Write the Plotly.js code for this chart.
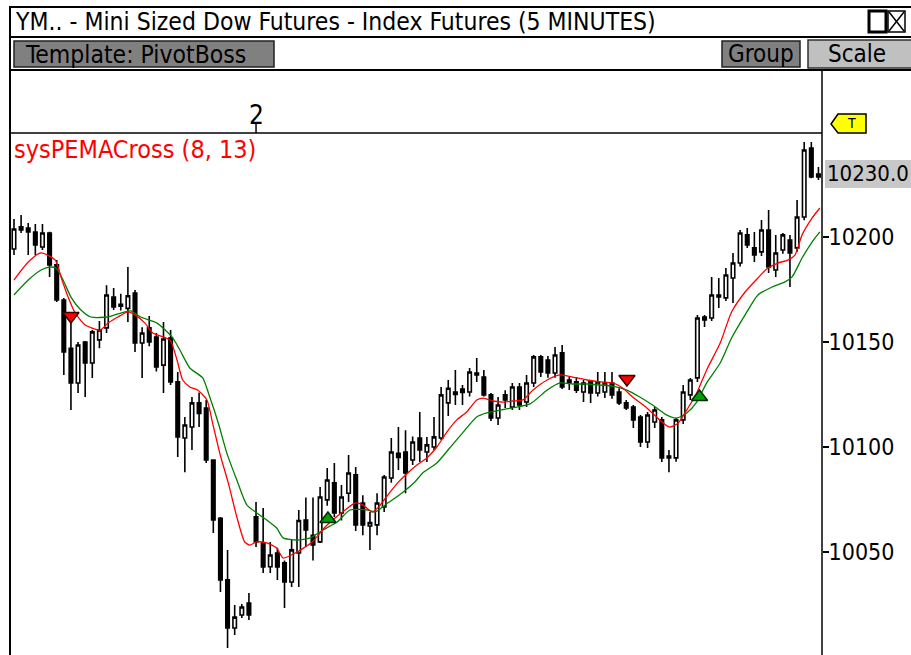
<!DOCTYPE html>
<html>
<head>
<meta charset="utf-8">
<script src="https://cdn.plot.ly/plotly-3.0.1.min.js"></script>
<style>
  body { margin: 0; padding: 0; background: #fff; }
  #chart { width: 911px; height: 655px; }
</style>
</head>
<body>
<div id="chart"></div>
<script>
// YM 5-minute bars (index = bar number)
const barOpen = [
  10194.3, 10204.8, 10204.3, 10202.4, 10195.2, 10201.9, 10186.7, 10170.0, 10147.0, 10130.5,
  10150.0, 10140.0, 10151.0, 10156.7, 10171.4, 10167.0, 10166.0, 10173.3, 10149.5, 10156.7,
  10152.4, 10139.0, 10151.9, 10131.0, 10104.3, 10109.5, 10121.0, 10118.6, 10093.8, 10066.0,
  10036.7, 10013.8, 10020.0, 10025.7, 10066.7, 10054.3, 10043.0, 10049.5, 10044.8, 10035.7,
  10049.5, 10065.2, 10058.0, 10054.8, 10074.8, 10082.9, 10068.6, 10078.0, 10086.7, 10073.3,
  10062.4, 10062.9, 10071.4, 10085.2, 10097.0, 10097.6, 10093.8, 10104.3, 10097.6, 10100.0,
  10104.3, 10121.0, 10126.2, 10127.6, 10126.2, 10135.2, 10133.3, 10124.8, 10113.8, 10124.8,
  10119.0, 10128.6, 10121.4, 10130.5, 10142.9, 10141.4, 10135.2, 10144.8, 10131.9, 10131.0,
  10126.2, 10131.0, 10125.7, 10126.2, 10130.5, 10126.2, 10121.0, 10119.0, 10114.3, 10102.4,
  10111.9, 10112.9, 10094.8, 10094.8, 10112.9, 10124.8, 10132.9, 10161.9, 10161.4, 10172.4,
  10171.0, 10180.5, 10187.6, 10201.0, 10194.8, 10192.9, 10203.3, 10184.3, 10193.8, 10198.6,
  10194.8, 10209.5, 10242.4, 10230.0
];
const barHigh = [
  10208.6, 10210.5, 10206.7, 10206.2, 10206.2, 10202.5, 10189.0, 10171.0, 10160.0, 10150.0,
  10150.5, 10155.7, 10160.0, 10177.0, 10175.7, 10173.0, 10185.7, 10174.8, 10157.0, 10162.4,
  10154.3, 10159.5, 10155.7, 10135.7, 10114.3, 10123.8, 10126.0, 10122.4, 10094.0, 10066.7,
  10051.0, 10024.8, 10025.2, 10030.5, 10073.8, 10071.0, 10054.8, 10052.0, 10046.0, 10055.7,
  10070.0, 10076.0, 10076.0, 10081.0, 10090.0, 10092.4, 10081.9, 10096.2, 10090.5, 10077.0,
  10069.0, 10078.0, 10086.7, 10104.3, 10109.5, 10108.0, 10105.0, 10116.7, 10104.8, 10114.3,
  10128.6, 10131.9, 10136.7, 10129.5, 10137.6, 10142.4, 10136.7, 10125.7, 10123.8, 10127.0,
  10130.5, 10130.5, 10134.3, 10143.8, 10143.8, 10143.3, 10147.6, 10148.6, 10133.3, 10133.3,
  10131.9, 10131.9, 10135.7, 10135.7, 10135.7, 10128.0, 10122.4, 10120.0, 10115.2, 10116.7,
  10119.0, 10114.3, 10098.6, 10113.8, 10129.5, 10132.9, 10162.9, 10162.9, 10181.0, 10180.5,
  10185.2, 10192.4, 10203.3, 10204.3, 10202.4, 10208.1, 10212.9, 10201.0, 10201.9, 10201.0,
  10217.6, 10245.2, 10245.2, 10233.3
];
const barLow = [
  10191.4, 10201.9, 10191.4, 10191.4, 10193.8, 10181.0, 10169.0, 10134.3, 10117.6, 10125.7,
  10123.8, 10132.9, 10147.0, 10154.3, 10165.2, 10165.0, 10159.5, 10145.2, 10132.9, 10148.0,
  10136.0, 10125.7, 10129.5, 10095.2, 10088.0, 10098.6, 10109.5, 10092.4, 10059.0, 10031.0,
  10004.3, 10010.5, 10018.6, 10017.6, 10052.4, 10040.0, 10040.0, 10036.7, 10023.3, 10033.3,
  10033.3, 10052.4, 10046.0, 10054.3, 10072.0, 10066.7, 10065.0, 10073.8, 10060.0, 10058.0,
  10051.0, 10058.0, 10069.0, 10083.0, 10089.0, 10078.0, 10091.4, 10092.9, 10092.9, 10098.6,
  10103.3, 10114.8, 10120.0, 10120.0, 10124.0, 10131.0, 10124.0, 10112.4, 10110.5, 10118.6,
  10117.6, 10117.6, 10119.0, 10128.6, 10133.3, 10133.0, 10133.0, 10127.6, 10127.1, 10125.7,
  10121.4, 10121.0, 10124.0, 10123.3, 10123.0, 10120.0, 10117.6, 10109.0, 10100.0, 10099.5,
  10109.0, 10092.9, 10088.0, 10093.0, 10111.0, 10122.4, 10131.0, 10157.1, 10160.0, 10166.2,
  10169.5, 10168.6, 10186.0, 10194.8, 10188.1, 10191.0, 10182.9, 10181.0, 10192.0, 10176.2,
  10193.0, 10208.0, 10228.0, 10227.1
];
const barClose = [
  10203.8, 10203.3, 10202.4, 10196.2, 10201.9, 10186.7, 10170.0, 10145.2, 10130.5, 10148.6,
  10140.0, 10154.8, 10155.7, 10172.4, 10166.7, 10168.0, 10172.0, 10149.5, 10154.3, 10150.0,
  10138.1, 10151.4, 10131.0, 10104.8, 10110.5, 10121.0, 10116.0, 10093.8, 10065.2, 10036.7,
  10013.8, 10019.0, 10023.8, 10020.0, 10054.8, 10042.9, 10048.6, 10042.9, 10035.7, 10051.0,
  10065.0, 10060.5, 10053.3, 10076.2, 10084.3, 10068.6, 10076.2, 10087.6, 10062.9, 10062.9,
  10064.0, 10073.3, 10085.7, 10097.6, 10095.0, 10087.6, 10102.4, 10098.6, 10101.0, 10104.8,
  10124.8, 10128.0, 10125.0, 10126.0, 10135.7, 10134.3, 10124.8, 10113.8, 10120.0, 10122.4,
  10128.6, 10120.0, 10130.5, 10142.9, 10135.7, 10135.2, 10143.8, 10128.6, 10130.5, 10127.1,
  10130.5, 10125.7, 10131.0, 10130.5, 10124.8, 10121.0, 10118.6, 10112.9, 10102.4, 10115.2,
  10117.6, 10094.8, 10095.7, 10112.9, 10126.2, 10131.9, 10161.4, 10160.5, 10172.4, 10171.4,
  10181.9, 10187.6, 10201.9, 10196.2, 10191.4, 10203.3, 10185.7, 10192.4, 10201.0, 10192.4,
  10209.5, 10241.4, 10228.6, 10228.6
];
const barIdx = barClose.map((_, i) => i);

// sysPEMACross lines (fast 8 red, slow 13 green)
const fastX = [0, 2.0, 3.8, 5.8, 6.6, 7.6, 8.6, 10.0, 12.1, 13.2, 14.6, 16.0, 17.0, 18.4, 19.5,
  21.9, 22.9, 23.7, 24.7, 25.8, 27.1, 27.9, 28.9, 30.1, 31.3, 32.4, 33.1, 34.1, 35.5, 36.9,
  37.8, 39.5, 41.9, 43.7, 45.1, 46.5, 47.9, 49.0, 50.3, 51.1, 52.5, 53.9, 55.3, 56.6, 58.0,
  59.4, 60.8, 62.2, 63.6, 65.0, 65.9, 67.3, 68.7, 70.1, 71.5, 72.9, 74.9, 76.7, 78.5, 80.5,
  82.3, 84.1, 85.5, 86.9, 88.9, 90.7, 92.1, 93.3, 94.5, 95.9, 97.3, 99.2, 100.8, 102.7, 104.5,
  105.9, 107.3, 108.7, 109.7, 110.7, 112.1, 113.2];
const fastY = [10179.5, 10188.1, 10192.4, 10189.0, 10181.0, 10171.4, 10163.8, 10158.1, 10155.7,
  10159.0, 10161.9, 10164.3, 10162.9, 10159.0, 10154.3, 10151.0, 10141.4, 10131.9, 10128.6,
  10127.1, 10122.4, 10111.4, 10097.1, 10082.9, 10066.7, 10054.8, 10053.3, 10054.8, 10054.3,
  10051.9, 10047.1, 10049.5, 10054.8, 10061.9, 10066.2, 10070.0, 10073.3, 10072.4, 10069.0,
  10071.0, 10077.1, 10082.9, 10087.6, 10091.4, 10094.8, 10100.0, 10107.1, 10112.9, 10116.7,
  10122.4, 10123.3, 10121.9, 10121.4, 10121.9, 10122.4, 10127.1, 10131.9, 10134.3, 10133.3,
  10131.9, 10131.0, 10130.5, 10128.1, 10123.8, 10118.6, 10112.9, 10109.5, 10111.4, 10117.6,
  10125.7, 10136.7, 10149.5, 10164.3, 10173.8, 10180.5, 10185.2, 10187.6, 10189.0, 10191.4,
  10201.0, 10209.0, 10213.8];
const slowX = [0, 2.0, 3.8, 5.1, 5.9, 6.9, 8.0, 9.4, 10.8, 13.2, 15.0, 16.4, 17.8, 20.1, 22.2,
  23.3, 24.7, 26.5, 27.5, 28.7, 29.9, 31.3, 32.7, 34.1, 35.5, 36.9, 37.8, 39.7, 41.6, 43.4,
  45.4, 47.2, 49.7, 50.7, 52.5, 54.5, 56.3, 57.4, 59.4, 61.2, 63.1, 65.0, 66.4, 68.3, 70.6,
  72.5, 74.9, 76.7, 78.5, 80.5, 82.3, 84.1, 86.1, 87.9, 89.7, 91.7, 93.1, 94.5, 95.9, 97.3,
  99.2, 100.8, 102.7, 104.5, 106.5, 108.3, 109.3, 110.7, 112.1, 113.2];
const slowY = [10172.4, 10179.5, 10184.3, 10185.7, 10185.2, 10179.5, 10171.4, 10165.2, 10161.9,
  10161.9, 10163.8, 10164.8, 10161.9, 10159.0, 10152.4, 10146.2, 10137.6, 10132.9, 10123.8,
  10111.4, 10097.1, 10084.3, 10072.4, 10068.6, 10065.2, 10061.4, 10056.7, 10055.7, 10056.7,
  10060.5, 10064.3, 10070.0, 10070.0, 10069.0, 10073.3, 10078.1, 10083.3, 10087.6, 10092.4,
  10099.5, 10107.1, 10114.3, 10116.2, 10117.6, 10119.0, 10120.5, 10127.1, 10130.5, 10130.0,
  10130.0, 10129.5, 10129.0, 10127.1, 10123.8, 10120.0, 10115.2, 10113.8, 10116.2, 10121.4,
  10130.5, 10140.0, 10151.9, 10162.9, 10172.4, 10176.2, 10178.6, 10181.0, 10190.0, 10197.6,
  10202.4];

// cross signals
const sellX = [8.0, 86.1];
const sellY = [10162.4, 10132.4];
const buyX = [44.1, 96.3];
const buyY = [10065.7, 10123.8];

const priceTicks = [10050, 10100, 10150, 10200];
const priceTickText = ["10050", "10100", "10150", "10200"];
const lastPrice = 10230.0;
const sessionBar = 34;

const FONT = "'DejaVu Sans Condensed', 'Liberation Sans Narrow', 'Arial Narrow', sans-serif";

// page pixel -> paper coords (plot area is x 10..822, y 133..655)
const L = 10, R = 822, T = 133, B = 655;
function px(x) { return (x - L) / (R - L); }
function py(y) { return (B - y) / (B - T); }

function rect(x0, y0, x1, y1, fill, lineColor, lw) {
  return { type: "rect", xref: "paper", yref: "paper", layer: "above",
    x0: px(x0), x1: px(x1), y0: py(y1), y1: py(y0),
    fillcolor: fill, line: { color: lineColor, width: lw } };
}
function seg(x0, y0, x1, y1, color, lw) {
  return { type: "line", xref: "paper", yref: "paper", layer: "above",
    x0: px(x0), x1: px(x1), y0: py(y0), y1: py(y1),
    line: { color: color, width: lw } };
}
function label(text, x, y, size, color, anchor) {
  return { text: text, xref: "paper", yref: "paper", x: px(x), y: py(y),
    xanchor: anchor || "left", yanchor: "middle", showarrow: false,
    font: { family: FONT, size: size, color: color || "black" } };
}

const shapes = [
  rect(10, 7, 920, 37, "white", "black", 2),
  seg(10, 70, 920, 70, "black", 2),
  seg(10, 7, 10, 655, "black", 2),
  seg(822, 70, 822, 655, "black", 1.5),
  seg(10, 133, 822, 133, "black", 1.5),
  // toolbar buttons
  rect(14, 41, 274, 67, "#808080", "#202020", 1.5),
  rect(722, 41, 800, 67, "#808080", "#202020", 1.5),
  rect(808, 40, 920, 68, "#c0c0c0", "#303030", 1.5),
  // window icons
  rect(869, 11, 886, 32, "white", "black", 3),
  rect(888, 11, 905, 32, "white", "black", 1.5),
  seg(889, 12, 904, 31, "black", 1.5),
  seg(904, 12, 889, 31, "black", 1.5),
  // day marker tick
  { type: "line", xref: "x", yref: "paper", x0: sessionBar, x1: sessionBar,
    y0: py(133), y1: py(124), line: { color: "black", width: 1.5 } },
  // last price box and "T" tag
  rect(825, 160, 920, 188, "#c8c8c8", "rgba(0,0,0,0)", 0),
  { type: "path", xref: "paper", yref: "paper", layer: "above",
    path: "M " + px(831) + " " + py(124) + " L " + px(838) + " " + py(114) +
          " L " + px(866) + " " + py(114) + " L " + px(866) + " " + py(133) +
          " L " + px(838) + " " + py(133) + " Z",
    fillcolor: "#ffff00", line: { color: "black", width: 1.5 } }
];

const annotations = [
  label("YM.. - Mini Sized Dow Futures - Index Futures (5 MINUTES)", 13, 22, 24.5),
  label("Template: PivotBoss", 23, 54, 24.5),
  label("Group", 761, 54, 24, "black", "center"),
  label("Scale", 826, 54, 24),
  label("sysPEMACross (8, 13)", 12, 149, 25, "#ff0000"),
  label("T", 851, 123, 14, "black", "center"),
  { text: "2", xref: "x", yref: "paper", x: sessionBar, y: py(115), showarrow: false,
    xanchor: "center", yanchor: "middle", font: { family: FONT, size: 26, color: "black" } },
  { text: lastPrice.toFixed(1), xref: "paper", yref: "y", x: px(825), y: lastPrice,
    xanchor: "left", yanchor: "middle", showarrow: false,
    font: { family: FONT, size: 22, color: "black" } }
];

const data = [
  {
    type: "candlestick",
    x: barIdx, open: barOpen, high: barHigh, low: barLow, close: barClose,
    increasing: { line: { color: "black", width: 1.6 }, fillcolor: "white" },
    decreasing: { line: { color: "black", width: 1.6 }, fillcolor: "black" },
    hoverinfo: "skip"
  },
  {
    type: "scatter", mode: "lines", x: slowX, y: slowY,
    line: { color: "#008000", width: 1.3, shape: "spline", smoothing: 0.6 }, hoverinfo: "skip"
  },
  {
    type: "scatter", mode: "lines", x: fastX, y: fastY,
    line: { color: "#ff0000", width: 1.3, shape: "spline", smoothing: 0.6 }, hoverinfo: "skip"
  },
  {
    type: "scatter", mode: "markers", x: sellX, y: sellY,
    marker: { symbol: "triangle-down", size: 14, color: "#ff0000", line: { color: "#3a0000", width: 1.5 } },
    hoverinfo: "skip"
  },
  {
    type: "scatter", mode: "markers", x: buyX, y: buyY,
    marker: { symbol: "triangle-up", size: 14, color: "#00a000", line: { color: "#002a00", width: 1.5 } },
    hoverinfo: "skip"
  }
];

const layout = {
  width: 911, height: 655,
  margin: { l: L, r: 911 - R, t: T, b: 0, pad: 0 },
  paper_bgcolor: "white", plot_bgcolor: "white",
  showlegend: false,
  xaxis: {
    range: [-0.56, 113.5], showgrid: false, zeroline: false, showticklabels: false,
    ticks: "", showline: false, rangeslider: { visible: false }, fixedrange: true
  },
  yaxis: {
    range: [10000.95, 10249.52], side: "right", showgrid: false, zeroline: false,
    showline: false, tickvals: priceTicks, ticktext: priceTickText, ticks: "outside",
    ticklen: 6, tickwidth: 1.5, tickcolor: "black", ticklabelstandoff: -5,
    tickfont: { family: FONT, size: 23, color: "black" }, fixedrange: true
  },
  shapes: shapes,
  annotations: annotations
};

Plotly.newPlot("chart", data, layout, { staticPlot: true, displayModeBar: false });
</script>
</body>
</html>
